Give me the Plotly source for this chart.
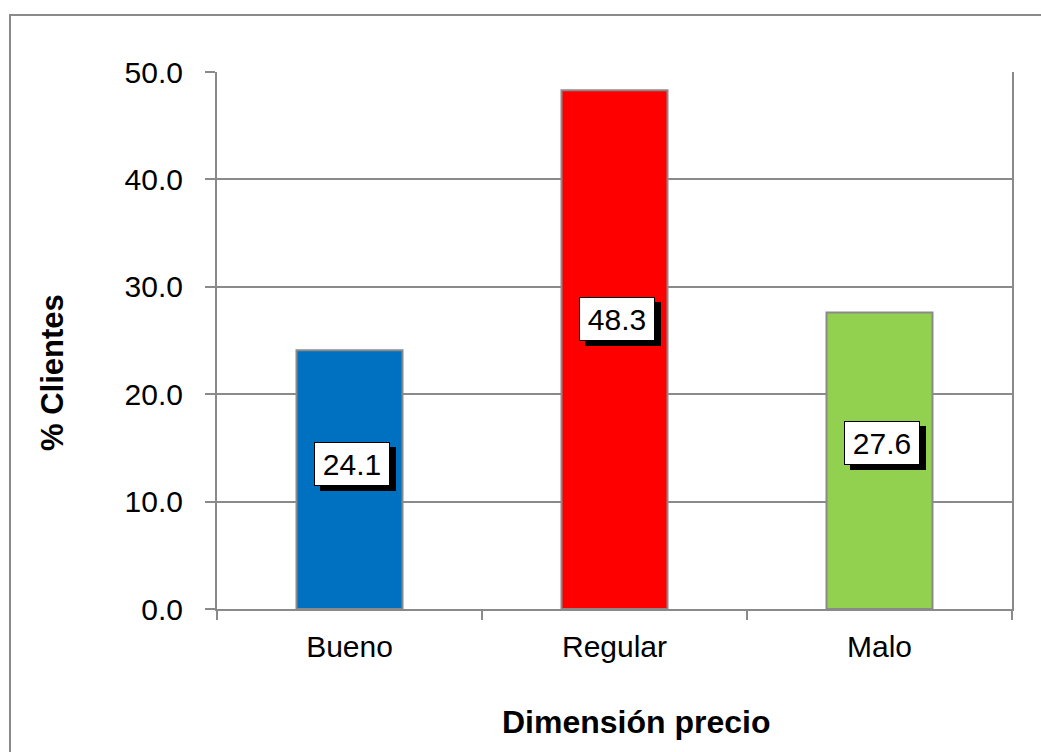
import plotly.graph_objects as go

categories = ["Bueno", "Regular", "Malo"]
values = [24.1, 48.3, 27.6]
bar_colors = ["#0070C0", "#FF0000", "#92D050"]
y_ticks = [0, 10, 20, 30, 40, 50]
y_title = "% Clientes"
x_title = "Dimensión precio"

W, H = 1041, 752
L, R, T, B = 217, 1012, 72, 609
GRAY = "#8a8a8a"
FONT = "Liberation Sans, Arial, sans-serif"
FS = 30

fig = go.Figure()
fig.add_trace(go.Bar(
    x=categories, y=values,
    marker=dict(color=bar_colors, line=dict(color=GRAY, width=2)),
    width=0.4, showlegend=False, hoverinfo="skip",
))

def px_to_paper_x(px):
    return (px - L) / (R - L)

def px_to_paper_y(py):
    return (B - py) / (B - T)

annotations = []
for c, v in zip(categories, values):
    ly = v * 0.56
    # shadow box (no text)
    annotations.append(dict(
        x=c, y=ly, xref="x", yref="y", text="\u00a0", showarrow=False,
        font=dict(family=FONT, size=FS, color="black"),
        bgcolor="black", bordercolor="black", borderwidth=1,
        width=72, height=40, xshift=8, yshift=-5,
    ))
    annotations.append(dict(
        x=c, y=ly, xref="x", yref="y", text=f"{v:.1f}", showarrow=False,
        font=dict(family=FONT, size=FS, color="black"),
        bgcolor="white", bordercolor="black", borderwidth=1,
        width=72, height=40, xshift=2,
    ))

annotations.append(dict(
    x=px_to_paper_x(52), y=px_to_paper_y(373), xref="paper", yref="paper",
    xanchor="center", yanchor="middle",
    text=f"<b>{y_title}</b>", textangle=-90, showarrow=False,
    font=dict(family=FONT, size=31, color="black"),
))
annotations.append(dict(
    x=px_to_paper_x(636), y=px_to_paper_y(722), xref="paper", yref="paper",
    xanchor="center", yanchor="middle",
    text=f"<b>{x_title}</b>", showarrow=False,
    font=dict(family=FONT, size=32, color="black"),
))

fig.update_layout(
    width=W, height=H, autosize=False,
    margin=dict(l=L, r=W - R, t=T, b=H - B, pad=0),
    paper_bgcolor="white", plot_bgcolor="white",
    font=dict(family=FONT, size=FS, color="black"),
    bargap=0.6,
    annotations=annotations,
    shapes=[dict(
        type="rect", xref="paper", yref="paper",
        x0=px_to_paper_x(10), x1=px_to_paper_x(1050),
        y0=px_to_paper_y(760), y1=px_to_paper_y(15),
        line=dict(color=GRAY, width=2), fillcolor="rgba(0,0,0,0)", layer="below",
    )],
)
fig.update_xaxes(
    type="category", showline=True, linecolor=GRAY, linewidth=2,
    ticks="outside", tickson="boundaries", ticklen=9, tickcolor=GRAY, tickwidth=2,
    tickfont=dict(family=FONT, size=FS), showgrid=False, mirror=False,
    ticklabelstandoff=10,
)
fig.update_yaxes(
    range=[0, 50], tickvals=y_ticks, tickformat=".1f",
    showline=True, linecolor=GRAY, linewidth=2, mirror=True,
    ticks="outside", ticklen=10, tickcolor=GRAY, tickwidth=2,
    showgrid=True, gridcolor=GRAY, gridwidth=2, zeroline=False,
    tickfont=dict(family=FONT, size=FS), ticklabelstandoff=16,
)

fig.write_html("out.html")
